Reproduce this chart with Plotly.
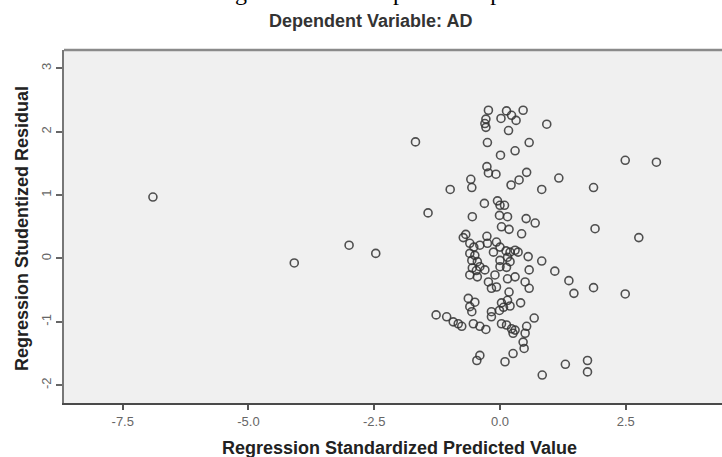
import plotly.graph_objects as go

# Regression Standardized Predicted Value (x) and Regression Studentized Residual (y)
pred = [
    -6.90, -4.09, -3.00, -2.47, -1.68, -1.43, -1.27, -1.06, -0.99,
    -0.23, -0.28, -0.30, -0.28, 0.02, 0.13, 0.23, 0.32, 0.46, 0.93, 0.17,
    -0.25, 0.58, 0.30, 0.01, -0.26, -0.23, -0.08, 0.53, 0.38, 0.22, 1.17,
    0.83, 1.86, -0.58, -0.56, -0.31, -0.05, 0.00, 0.09, -0.01, 0.15, -0.55,
    0.52, 0.70, 0.03, 0.18, 0.43, 1.89, -0.73, -0.68, -0.26,
    2.49, 3.11, 2.76, 0.83, 1.09, 1.37, 1.47, 1.86, 2.49, 1.30, 1.74, 1.74, 0.84,
    -0.60, -0.52, -0.40, -0.25, -0.07, -0.13, 0.00, 0.12, 0.20, 0.30, 0.36,
    0.15, 0.20, 0.00, 0.56, -0.60, -0.50, -0.56, -0.45, -0.40, -0.55, -0.47,
    -0.60, -0.45, -0.30, -0.23, -0.10, -0.07, -0.17, 0.15, 0.30, 0.50, 0.58,
    0.58, 0.00, 0.13, 0.18, 0.15, 0.41, 0.03, 0.07, 0.20, -0.01, -0.17, -0.17,
    -0.63, -0.50, -0.60, -0.56, -0.93, -0.83, -0.76, -0.53, -0.40, -0.28, 0.03,
    0.13, 0.23, 0.26, 0.30, 0.53, 0.68, 0.50, 0.46, 0.48, 0.26, 0.10, -0.40, -0.46,
]
resid = [
    0.97, -0.07, 0.21, 0.08, 1.84, 0.72, -0.89, -0.92, 1.09,
    2.34, 2.20, 2.13, 2.07, 2.21, 2.33, 2.26, 2.18, 2.34, 2.12, 2.02,
    1.83, 1.83, 1.70, 1.63, 1.45, 1.35, 1.33, 1.36, 1.24, 1.16, 1.27,
    1.09, 1.12, 1.25, 1.12, 0.87, 0.91, 0.84, 0.84, 0.68, 0.66, 0.66,
    0.63, 0.56, 0.50, 0.46, 0.39, 0.47, 0.33, 0.38, 0.35,
    1.55, 1.52, 0.33, -0.04, -0.20, -0.35, -0.55, -0.46, -0.56, -1.67, -1.61, -1.79, -1.84,
    0.24, 0.18, 0.21, 0.24, 0.26, 0.10, 0.18, 0.12, 0.10, 0.13, 0.10,
    0.02, -0.05, -0.03, 0.03, 0.08, 0.05, -0.03, -0.05, -0.13, -0.15, -0.19,
    -0.26, -0.29, -0.18, -0.37, -0.26, -0.45, -0.47, -0.32, -0.29, -0.37, -0.18,
    -0.47, -0.13, -0.14, -0.53, -0.66, -0.70, -0.70, -0.77, -0.75, -0.82, -0.84, -0.92,
    -0.63, -0.69, -0.76, -0.84, -1.00, -1.03, -1.07, -1.03, -1.07, -1.12, -1.03,
    -1.05, -1.11, -1.18, -1.13, -1.07, -0.94, -1.18, -1.32, -1.42, -1.50, -1.63, -1.53, -1.61,
]

x_ticks = [-7.5, -5.0, -2.5, 0.0, 2.5]
x_tick_labels = ["-7.5", "-5.0", "-2.5", "0.0", "2.5"]
y_ticks = [-2, -1, 0, 1, 2, 3]
y_tick_labels = ["-2", "-1", "0", "1", "2", "3"]

caption = "Figure 4.5: Scatterplot of Dependent Variable"
subtitle = "Dependent Variable: AD"
x_title = "Regression Standardized Predicted Value"
y_title = "Regression Studentized Residual"

W, H = 722, 457
L, R, T, B = 64, 0, 50, 54
plot_h = H - T - B
plot_w = W - L - R

def px(xp):
    return (xp - L) / plot_w

def py(yp):
    return (H - B - yp) / plot_h

fig = go.Figure()
fig.add_trace(go.Scatter(
    x=pred, y=resid, mode="markers",
    marker=dict(symbol="circle-open", size=8, color="rgba(50,50,50,0.85)",
                line=dict(width=1.6, color="rgba(50,50,50,0.85)")),
    hoverinfo="x+y", showlegend=False,
))

fig.update_layout(
    width=W, height=H,
    margin=dict(l=L, r=R, t=T, b=B, pad=0),
    paper_bgcolor="white",
    plot_bgcolor="#F0F0F0",
    font=dict(family="Liberation Sans, Arial, sans-serif"),
    xaxis=dict(
        range=[-8.668, 4.414], tickmode="array", tickvals=x_ticks, ticktext=x_tick_labels,
        showgrid=False, zeroline=False, showline=True, linecolor="#4a4a4a", linewidth=2,
        ticks="outside", ticklen=5, tickwidth=1.5, tickcolor="#555",
        tickfont=dict(size=13, color="#666"),
    ),
    yaxis=dict(
        range=[-2.281, 3.291], tickmode="array", tickvals=y_ticks, ticktext=y_tick_labels,
        showgrid=False, zeroline=False, showline=True, linecolor="#777", linewidth=2,
        ticks="outside", ticklen=6, tickwidth=1.5, tickcolor="#666",
        tickangle=-90, tickfont=dict(size=13, color="#666"),
    ),
    shapes=[dict(type="line", xref="paper", yref="paper", x0=0, x1=1, y0=1, y1=1,
                 line=dict(color="#8a8a8a", width=2.5))],
    annotations=[
        dict(text=caption, xref="paper", yref="paper", x=px(213), y=py(-8),
             xanchor="left", yanchor="middle", showarrow=False,
             font=dict(family="Liberation Serif, Times New Roman, serif", size=24, color="black"),
             ),
        dict(text="<b>" + subtitle + "</b>", xref="paper", yref="paper", x=px(370), y=py(21),
             xanchor="center", yanchor="middle", showarrow=False,
             font=dict(size=18, color="#333")),
        dict(text="<b>" + x_title + "</b>", xref="paper", yref="paper", x=px(399), y=py(448),
             xanchor="center", yanchor="middle", showarrow=False,
             font=dict(size=18, color="#222")),
        dict(text="<b>" + y_title + "</b>", xref="paper", yref="paper", x=px(22), y=py(229),
             xanchor="center", yanchor="middle", showarrow=False, textangle=-90,
             font=dict(size=18, color="#222")),
    ],
)

fig.write_html(
    "out.html",
    config={"displayModeBar": False},
    post_script="document.body.style.margin='0px';document.body.style.overflow='hidden';",
)
